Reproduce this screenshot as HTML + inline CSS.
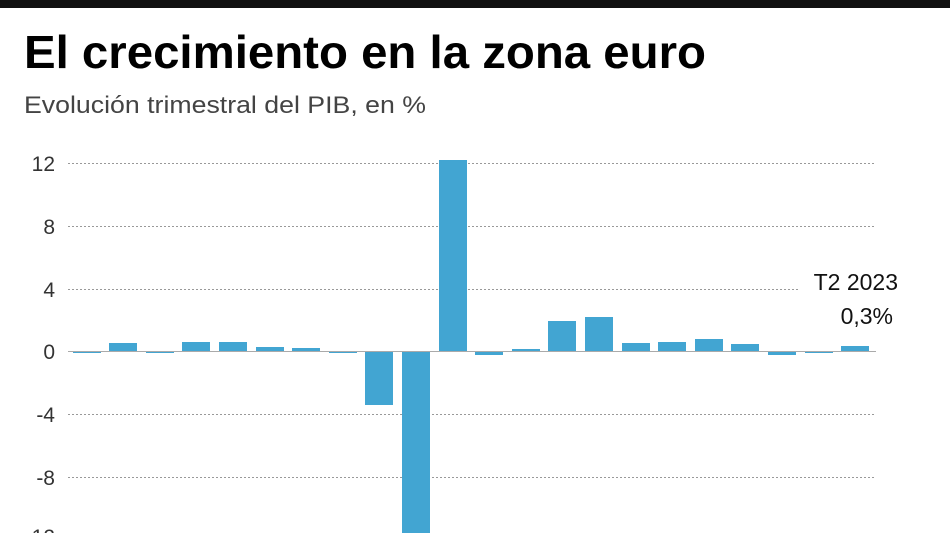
<!DOCTYPE html>
<html><head><meta charset="utf-8"><style>
body{margin:0;background:#fff;}
svg{display:block;font-family:"Liberation Sans",sans-serif;}
</style></head><body>
<svg width="950" height="533" viewBox="0 0 950 533">
<rect x="0" y="0" width="950" height="8" fill="#111"/>
<text x="24" y="68" font-size="46" font-weight="bold" fill="#000" textLength="682" lengthAdjust="spacingAndGlyphs">El crecimiento en la zona euro</text>
<text x="24" y="113" font-size="24" fill="#444" textLength="402" lengthAdjust="spacingAndGlyphs">Evolución trimestral del PIB, en %</text>
<g stroke="#999" stroke-width="1" stroke-dasharray="2,2">
<line x1="68" x2="876" y1="163.5" y2="163.5"/>
<line x1="68" x2="876" y1="226.5" y2="226.5"/>
<line x1="68" x2="800" y1="289.5" y2="289.5"/>
<line x1="68" x2="876" y1="414.5" y2="414.5"/>
<line x1="68" x2="876" y1="477.5" y2="477.5"/>
</g>
<g font-size="21" fill="#333" text-anchor="end">
<text x="55" y="171">12</text>
<text x="55" y="234">8</text>
<text x="55" y="297">4</text>
<text x="55" y="359">0</text>
<text x="55" y="422">-4</text>
<text x="55" y="485">-8</text>
<text x="55" y="544">-12</text>
</g>
<g fill="#42a5d2">
<rect x="73" y="351" width="28" height="2"/>
<rect x="109" y="343" width="28" height="8"/>
<rect x="146" y="351" width="28" height="2"/>
<rect x="182" y="342" width="28" height="9"/>
<rect x="219" y="342" width="28" height="9"/>
<rect x="256" y="347" width="28" height="4"/>
<rect x="292" y="348" width="28" height="3"/>
<rect x="329" y="351" width="28" height="2"/>
<rect x="365" y="351" width="28" height="54"/>
<rect x="402" y="351" width="28" height="185"/>
<rect x="439" y="160" width="28" height="191"/>
<rect x="475" y="351" width="28" height="4"/>
<rect x="512" y="349" width="28" height="2"/>
<rect x="548" y="321" width="28" height="30"/>
<rect x="585" y="317" width="28" height="34"/>
<rect x="622" y="343" width="28" height="8"/>
<rect x="658" y="342" width="28" height="9"/>
<rect x="695" y="339" width="28" height="12"/>
<rect x="731" y="344" width="28" height="7"/>
<rect x="768" y="351" width="28" height="4"/>
<rect x="805" y="351" width="28" height="2"/>
<rect x="841" y="346" width="28" height="5"/>
</g>
<line x1="68" x2="876" y1="351.5" y2="351.5" stroke="#aaa" stroke-width="1"/>
<g font-size="23" fill="#111" text-anchor="end">
<text x="898" y="290">T2 2023</text>
<text x="893" y="324">0,3%</text>
</g>
</svg>
</body></html>
